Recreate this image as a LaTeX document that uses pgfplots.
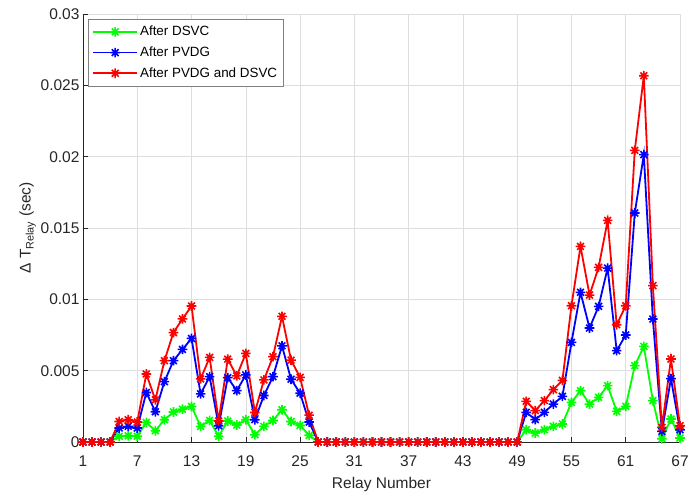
\documentclass[border=0pt]{standalone}
\usepackage{fontspec}
\setmainfont{Liberation Sans}
\usepackage{pgfplots}
\usepackage{pgfplotstable}
\pgfplotsset{compat=1.18}

\definecolor{axgray}{rgb}{0.15,0.15,0.15}
\definecolor{gridgray}{rgb}{0.87,0.87,0.87}

% eight-armed star marker (plus and cross combined)
\pgfdeclareplotmark{starburst}{%
  \pgfpathmoveto{\pgfpoint{-\pgfplotmarksize}{0pt}}%
  \pgfpathlineto{\pgfpoint{\pgfplotmarksize}{0pt}}%
  \pgfpathmoveto{\pgfpoint{0pt}{-\pgfplotmarksize}}%
  \pgfpathlineto{\pgfpoint{0pt}{\pgfplotmarksize}}%
  \pgfpathmoveto{\pgfpoint{-0.707\pgfplotmarksize}{-0.707\pgfplotmarksize}}%
  \pgfpathlineto{\pgfpoint{0.707\pgfplotmarksize}{0.707\pgfplotmarksize}}%
  \pgfpathmoveto{\pgfpoint{-0.707\pgfplotmarksize}{0.707\pgfplotmarksize}}%
  \pgfpathlineto{\pgfpoint{0.707\pgfplotmarksize}{-0.707\pgfplotmarksize}}%
  \pgfusepathqstroke}

% relay, after DSVC, after PVDG, after PVDG and DSVC
\pgfplotstableread{
r dsvc pvdg both
1 0 0 0
2 0 0 0
3 0 0 0
4 0 0 0
5 0.00040 0.00098 0.00144
6 0.00044 0.00110 0.00156
7 0.00040 0.00098 0.00140
8 0.00137 0.00347 0.00477
9 0.00079 0.00212 0.00295
10 0.00156 0.00423 0.00570
11 0.00210 0.00570 0.00767
12 0.00230 0.00649 0.00863
13 0.00249 0.00726 0.00953
14 0.00110 0.00337 0.00442
15 0.00151 0.00458 0.00593
16 0.00040 0.00114 0.00147
17 0.00147 0.00451 0.00581
18 0.00119 0.00360 0.00463
19 0.00156 0.00470 0.00621
20 0.00051 0.00156 0.00207
21 0.00110 0.00326 0.00435
22 0.00151 0.00458 0.00598
23 0.00226 0.00674 0.00881
24 0.00144 0.00440 0.00574
25 0.00116 0.00342 0.00453
26 0.00047 0.00140 0.00188
27 0 0 0
28 0 0 0
29 0 0 0
30 0 0 0
31 0 0 0
32 0 0 0
33 0 0 0
34 0 0 0
35 0 0 0
36 0 0 0
37 0 0 0
38 0 0 0
39 0 0 0
40 0 0 0
41 0 0 0
42 0 0 0
43 0 0 0
44 0 0 0
45 0 0 0
46 0 0 0
47 0 0 0
48 0 0 0
49 0 0 0
50 0.00086 0.00208 0.00285
51 0.00063 0.00157 0.00220
52 0.00086 0.00208 0.00290
53 0.00110 0.00266 0.00367
54 0.00126 0.00320 0.00432
55 0.00278 0.00698 0.00955
56 0.00360 0.01049 0.01371
57 0.00266 0.00799 0.01030
58 0.00313 0.00951 0.01224
59 0.00395 0.01219 0.01553
60 0.00215 0.00640 0.00822
61 0.00250 0.00750 0.00955
62 0.00535 0.01605 0.02044
63 0.00670 0.02014 0.02567
64 0.00290 0.00862 0.01096
65 0.00023 0.00075 0.00103
66 0.00161 0.00444 0.00582
67 0.00028 0.00086 0.00114
}\relaydata

\begin{document}
\begin{tikzpicture}
\begin{axis}[
  at={(0,0)}, anchor=south west,
  scale only axis, width=597pt, height=428pt,
  xmin=1, xmax=67, ymin=0, ymax=0.03,
  xtick={1,7,13,19,25,31,37,43,49,55,61,67},
  ytick={0,0.005,0.01,0.015,0.02,0.025,0.03},
  yticklabels={0,0.005,0.01,0.015,0.02,0.025,0.03},
  scaled y ticks=false,
  axis lines*=left,
  axis line style={-, axgray, line width=0.6pt},
  grid=major,
  major grid style={gridgray, line width=0.6pt},
  tick align=inside,
  major tick length=5pt,
  tick style={axgray, line width=0.6pt},
  ticklabel style={font=\fontsize{15.5}{18}\selectfont, text=axgray},
  xticklabel style={yshift=-10pt},
  /pgf/number format/assume math mode=true,
  label style={font=\fontsize{15.5}{18}\selectfont, text=axgray},
  xlabel={Relay Number},
  ylabel={Δ T\textsubscript{Relay} (sec)},
  xlabel style={yshift=-4pt},
  ylabel style={yshift=-2pt},
  clip=false,
  every axis plot/.append style={line width=1.8pt, mark=starburst, mark size=4.8pt,
    mark options={line width=1.6pt}},
  legend cell align=left,
  legend style={at={(axis description cs:0,1)}, anchor=north west,
    xshift=5pt, yshift=-5pt, draw=gray, line width=0.6pt, fill=white,
    font=\fontsize{13.4}{16}\selectfont, text=black,
    inner xsep=4pt, inner ysep=5pt, row sep=5.5pt},
  legend image code/.code={%
    \draw[mark repeat=2, mark phase=2] plot coordinates {(0pt,0pt) (22pt,0pt) (44pt,0pt)};},
]
\addplot[color=green] table[x=r, y=dsvc] {\relaydata};
\addlegendentry{After DSVC}
\addplot[color=blue] table[x=r, y=pvdg] {\relaydata};
\addlegendentry{After PVDG}
\addplot[color=red] table[x=r, y=both] {\relaydata};
\addlegendentry{After PVDG and DSVC}
\end{axis}
\pgfresetboundingbox
\useasboundingbox (-83pt,-57pt) rectangle (605pt,442pt);
\end{tikzpicture}
\end{document}
